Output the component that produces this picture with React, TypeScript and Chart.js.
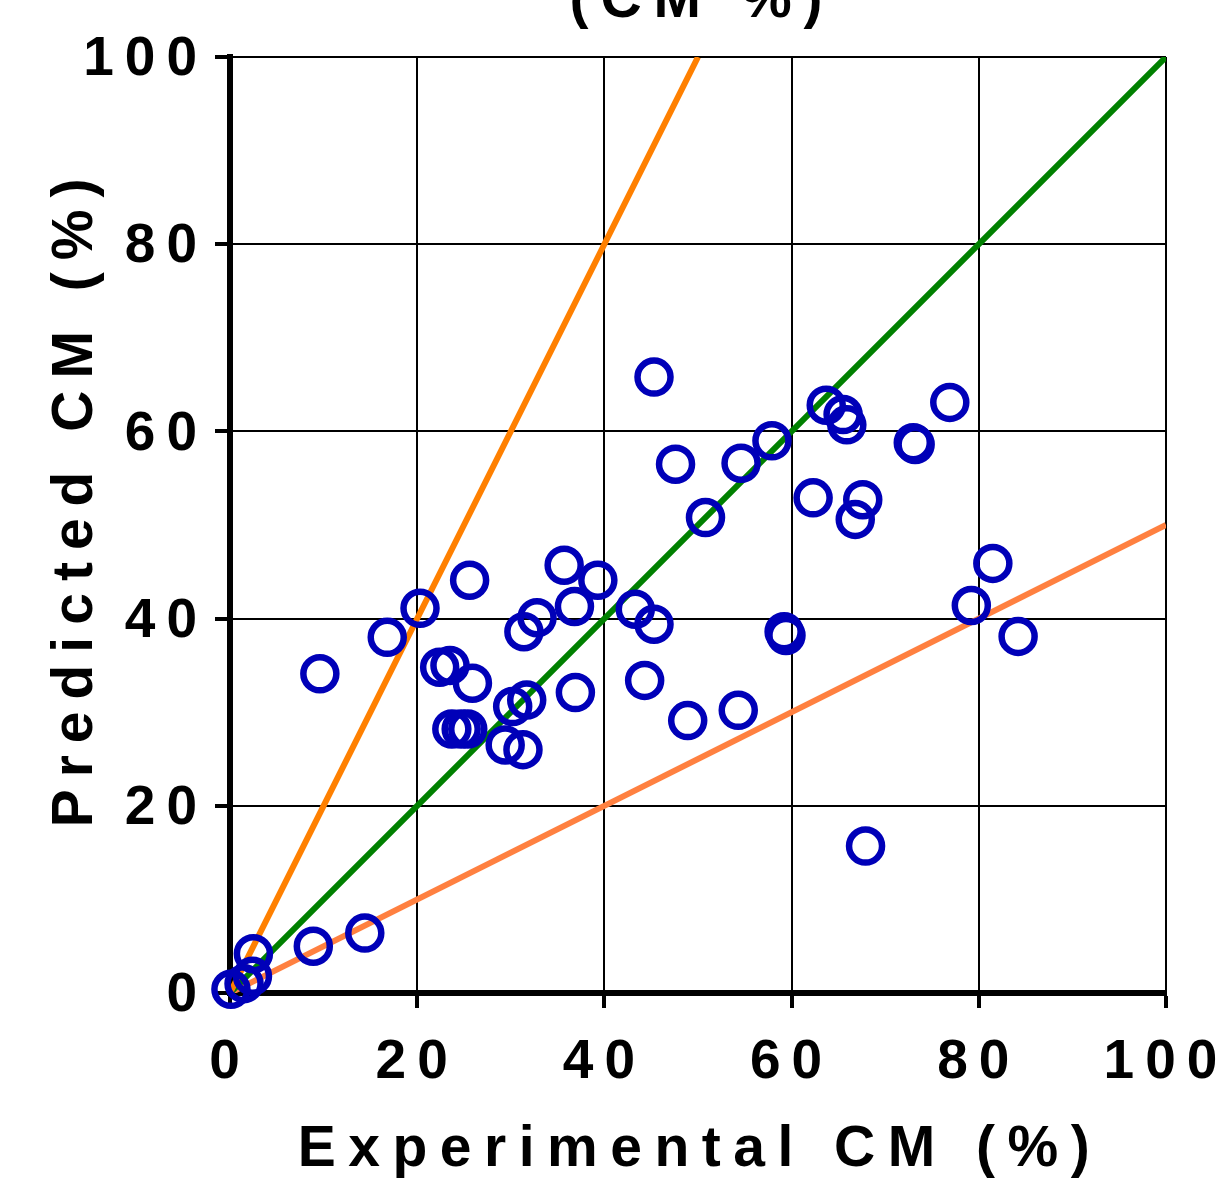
import React, { useEffect, useRef } from 'react';
import { Chart, registerables } from 'chart.js';

Chart.register(...registerables);

// Measured data: experimental vs predicted CM (%)
const experimental = [
  9.6, 16.8, 20.3, 25.6, 22.4, 23.5, 25.9, 23.7, 24.7, 25.4,
  29.4, 31.3, 30.2, 31.7, 31.4, 32.8, 35.7, 36.8, 36.9, 39.3,
  43.3, 45.3, 44.3, 45.3, 47.6, 48.9, 50.8, 54.3, 54.6, 57.9,
  59.2, 59.4, 62.3, 63.7, 65.5, 65.9, 66.8, 67.6, 67.9, 73.0,
  73.2, 76.9, 79.2, 81.5, 84.2, 8.9, 14.4, 2.5, 2.4, 1.5, 0.1,
];
const predicted = [
  34.1, 38.0, 41.1, 44.1, 34.8, 35.0, 33.1, 28.2, 28.2, 28.2,
  26.5, 26.0, 30.6, 31.3, 38.6, 40.1, 45.7, 41.3, 32.1, 44.1,
  41.0, 39.4, 33.4, 65.8, 56.5, 29.1, 50.8, 30.2, 56.6, 59.0,
  38.6, 38.2, 52.9, 62.8, 61.8, 60.7, 50.6, 52.7, 15.7, 58.8,
  58.6, 63.1, 41.4, 45.9, 38.1, 5.0, 6.4, 4.2, 1.8, 1.0, 0.4,
];

// Reference lines
const upperLineX = [0, 50];
const upperLineY = [0, 100];
const identityLineX = [0, 100];
const identityLineY = [0, 100];
const lowerLineX = [0, 100];
const lowerLineY = [0, 50];

const axisMin = 0;
const axisMax = 100;
const axisStep = 20;

const chartTitle = '(CM %)';
const xTitle = 'Experimental CM (%)';
const yTitle = 'Predicted CM (%)';

const FONT_FAMILY = '"Liberation Sans", Arial, Helvetica, sans-serif';

const toPoints = (xs: number[], ys: number[]) => xs.map((x, i) => ({ x, y: ys[i] }));

const textPlugin = {
  id: 'textPlugin',
  beforeDraw(chart: any) {
    (chart.ctx as any).letterSpacing = '11px';
  },
  afterDraw(chart: any) {
    const ctx = chart.ctx as any;
    const { left, right, top, bottom } = chart.chartArea;
    const cx = (left + right) / 2;
    const cy = (top + bottom) / 2;
    ctx.save();
    ctx.letterSpacing = '12.5px';
    ctx.fillStyle = '#000';
    ctx.font = `bold 57px ${FONT_FAMILY}`;
    ctx.textAlign = 'center';
    ctx.textBaseline = 'alphabetic';
    ctx.fillText(xTitle, cx + 2, bottom + 173);
    ctx.letterSpacing = '12px';
    ctx.fillText(chartTitle, cx + 4, top - 40);
    ctx.translate(left - 138, cy - 28);
    ctx.rotate(-Math.PI / 2);
    ctx.fillText(yTitle, 0, 0);
    ctx.restore();
  },
};

export default function App() {
  const canvasRef = useRef<HTMLCanvasElement>(null);

  useEffect(() => {
    const tickFont = { family: FONT_FAMILY, size: 55, weight: 'bold' as const };
    const chart = new Chart(canvasRef.current as HTMLCanvasElement, {
      type: 'scatter',
      data: {
        datasets: [
          {
            label: 'Data',
            data: toPoints(experimental, predicted),
            showLine: false,
            pointRadius: 16.5,
            pointHoverRadius: 16.5,
            pointBorderWidth: 6.5,
            pointBorderColor: '#0000B8',
            pointBackgroundColor: 'rgba(0,0,0,0)',
            clip: false as any,
          },
          {
            label: 'Upper',
            data: toPoints(upperLineX, upperLineY),
            showLine: true,
            borderColor: '#FF8000',
            borderWidth: 6,
            pointRadius: 0,
            fill: false,
          },
          {
            label: 'Identity',
            data: toPoints(identityLineX, identityLineY),
            showLine: true,
            borderColor: '#008000',
            borderWidth: 6,
            pointRadius: 0,
            fill: false,
          },
          {
            label: 'Lower',
            data: toPoints(lowerLineX, lowerLineY),
            showLine: true,
            borderColor: '#FF8040',
            borderWidth: 6,
            pointRadius: 0,
            fill: false,
          },
        ],
      },
      options: {
        responsive: false,
        animation: false,
        events: [],
        layout: { padding: { top: 57, right: 57, left: 0, bottom: 0 } },
        plugins: {
          legend: { display: false },
          tooltip: { enabled: false },
          title: { display: false },
        },
        scales: {
          x: {
            type: 'linear',
            min: axisMin,
            max: axisMax,
            ticks: {
              stepSize: axisStep,
              padding: 22,
              color: '#000',
              font: tickFont,
              maxRotation: 0,
              autoSkip: false,
            },
            grid: { color: '#000', lineWidth: 2, tickLength: 15, tickWidth: 4, tickColor: '#000' },
            border: { color: '#000', width: 6 },
            afterFit(scale: any) {
              scale.height = 190;
              scale.paddingLeft = 0;
              scale.paddingRight = 0;
            },
          } as any,
          y: {
            type: 'linear',
            min: axisMin,
            max: axisMax,
            ticks: {
              stepSize: axisStep,
              padding: 7,
              labelOffset: 3,
              color: '#000',
              font: tickFont,
              autoSkip: false,
            },
            grid: { color: '#000', lineWidth: 2, tickLength: 15, tickWidth: 4, tickColor: '#000' },
            border: { color: '#000', width: 6 },
            afterFit(scale: any) {
              scale.width = 230;
              scale.paddingTop = 0;
              scale.paddingBottom = 0;
            },
          } as any,
        },
      },
      plugins: [textPlugin],
    });
    return () => chart.destroy();
  }, []);

  return (
    <div style={{ position: 'absolute', left: 0, top: 0, width: 1223, height: 1183, background: '#fff' }}>
      <canvas ref={canvasRef} width={1223} height={1183} style={{ display: 'block' }} />
    </div>
  );
}
